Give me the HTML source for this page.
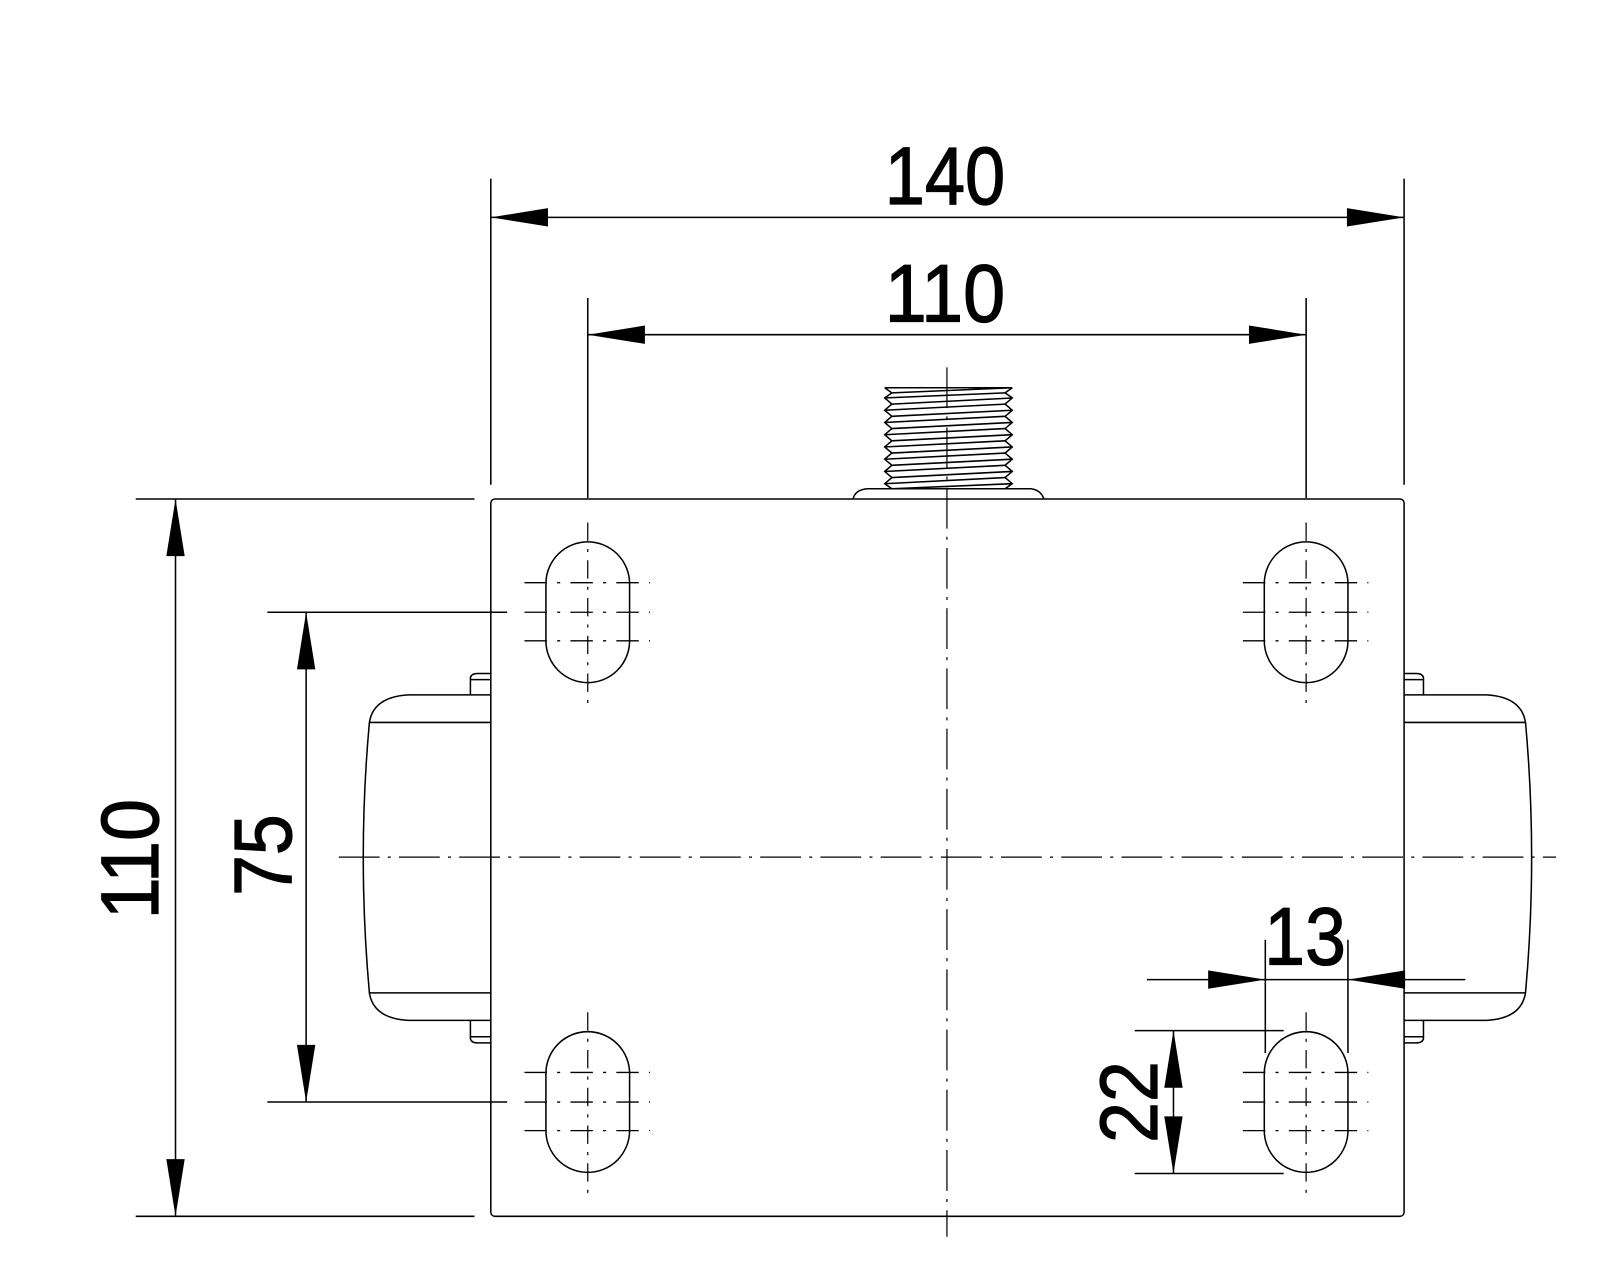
<!DOCTYPE html>
<html><head><meta charset="utf-8"><style>html,body{margin:0;padding:0;background:#fff}svg{display:block}</style></head>
<body>
<svg width="1600" height="1280" viewBox="0 0 1568 1254.4" xmlns="http://www.w3.org/2000/svg">
<g fill="none" stroke="#000" stroke-width="1.5">
<rect x="481" y="489" width="895" height="703" rx="4"/>
<path d="M481,681 L400,681 Q366,683 362,708 Q350,840 362,973 Q366,998 400,1000 L481,1000"/>
<line x1="362" y1="708" x2="481" y2="708"/>
<line x1="362" y1="973" x2="481" y2="973"/>
<path d="M461,681 L461,664 Q462,660 468,660 L481,660 M461,666 L481,666"/>
<path d="M461,1000 L461,1018 Q462,1022 468,1022 L481,1022 M461,1016 L481,1016"/>
<path d="M1376,681 L1457,681 Q1491,683 1495,708 Q1507,840 1495,973 Q1491,998 1457,1000 L1376,1000"/>
<line x1="1376" y1="708" x2="1495" y2="708"/>
<line x1="1376" y1="973" x2="1495" y2="973"/>
<path d="M1395,681 L1395,664 Q1394,660 1388,660 L1376,660 M1395,666 L1376,666"/>
<path d="M1395,1000 L1395,1018 Q1394,1022 1388,1022 L1376,1022 M1395,1016 L1376,1016"/>
<path d="M836,489 Q838,480 850,479 L1010,479 Q1020,480 1023,489"/>
<path d="M867,380 L992,380 M867,380 L874,385 L867,390 L874,396 L867,402 L874,408 L867,414 L874,420 L867,426 L874,432 L867,438 L874,444 L867,450 L874,456 L867,462 L874,468 L867,474 L874,479
M992,380 L985,385 L992,390 L985,396 L992,402 L985,408 L992,414 L985,420 L992,426 L985,432 L992,438 L985,444 L992,450 L985,456 L992,462 L985,468 L992,474 L985,479"/>
<path d="M874,385 L992,380 M867,390 L985,385 M874,396 L992,390 M867,402 L985,396 M874,408 L992,402 M867,414 L985,408 M874,420 L992,414 M867,426 L985,420 M874,432 L992,426 M867,438 L985,432 M874,444 L992,438 M867,450 L985,444 M874,456 L992,450 M867,462 L985,456 M874,468 L992,462 M867,474 L985,468 M874,479 L992,474"/>
<g id="slot">
<path d="M535,572 A41,41 0 0 1 617,572 L617,628 A41,41 0 0 1 535,628 Z"/>
</g>
<use href="#slot" x="704"/>
<use href="#slot" y="480"/>
<use href="#slot" x="704" y="480"/>
</g>
<g fill="none" stroke="#000" stroke-width="1.2" stroke-dasharray="40,8,3,8">
<line x1="928" y1="360" x2="928" y2="1212"/>
<line x1="332" y1="840" x2="1525" y2="840"/>
</g>
<g fill="none" stroke="#000" stroke-width="1.2" stroke-dasharray="18,8,3,8">
<line x1="576" y1="512" x2="576" y2="692"/>
<line x1="1280" y1="512" x2="1280" y2="692"/>
<line x1="576" y1="992" x2="576" y2="1172"/>
<line x1="1280" y1="992" x2="1280" y2="1172"/>
</g>
<g fill="none" stroke="#000" stroke-width="1.3" stroke-dasharray="22,10,3,10">
<path d="M514,571 H637 M514,600 H637 M514,628 H637 M1218,571 H1341 M1218,600 H1341 M1218,628 H1341"/>
<path d="M514,1051 H637 M514,1080 H637 M514,1108 H637 M1218,1051 H1341 M1218,1080 H1341 M1218,1108 H1341"/>
</g>
<g fill="none" stroke="#000" stroke-width="1.5">
<path d="M481,175 V475 M1376,175 V475 M481,213 H1376"/>
<path d="M576,292 V488 M1280,292 V488 M576,328 H1280"/>
<path d="M133,489 H465 M133,1192 H465 M172,489 V1192"/>
<path d="M262,600 H497 M262,1080 H497 M300,600 V1080"/>
<path d="M1240,921 V1032 M1321,921 V1032 M1124,960 H1436"/>
<path d="M1112,1010 H1258 M1112,1150 H1258 M1150,1010 V1150"/>
</g>
<g fill="#000">
<polygon points="481,213 537,204 537,222"/>
<polygon points="1376,213 1320,204 1320,222"/>
<polygon points="576,328 632,319 632,337"/>
<polygon points="1280,328 1224,319 1224,337"/>
<polygon points="172,489 163,545 181,545"/>
<polygon points="172,1192 163,1136 181,1136"/>
<polygon points="300,600 291,656 309,656"/>
<polygon points="300,1080 291,1024 309,1024"/>
<polygon points="1240,960 1184,951 1184,969"/>
<polygon points="1321,960 1377,951 1377,969"/>
<polygon points="1150,1010 1141,1066 1159,1066"/>
<polygon points="1150,1150 1141,1094 1159,1094"/>
</g>
<g font-family="Liberation Sans, sans-serif" font-size="80" fill="#000" text-anchor="middle" stroke="#000" stroke-width="1.2">
<text x="926" y="200" textLength="118" lengthAdjust="spacingAndGlyphs">140</text>
<text x="926" y="315" textLength="118" lengthAdjust="spacingAndGlyphs">110</text>
<text x="1279" y="945" textLength="80" lengthAdjust="spacingAndGlyphs">13</text>
<text transform="translate(155,842) rotate(-90)" textLength="118" lengthAdjust="spacingAndGlyphs">110</text>
<text transform="translate(285,838) rotate(-90)" textLength="80" lengthAdjust="spacingAndGlyphs">75</text>
<text transform="translate(1134,1080) rotate(-90)" textLength="80" lengthAdjust="spacingAndGlyphs">22</text>
</g>
</svg>
</body></html>
